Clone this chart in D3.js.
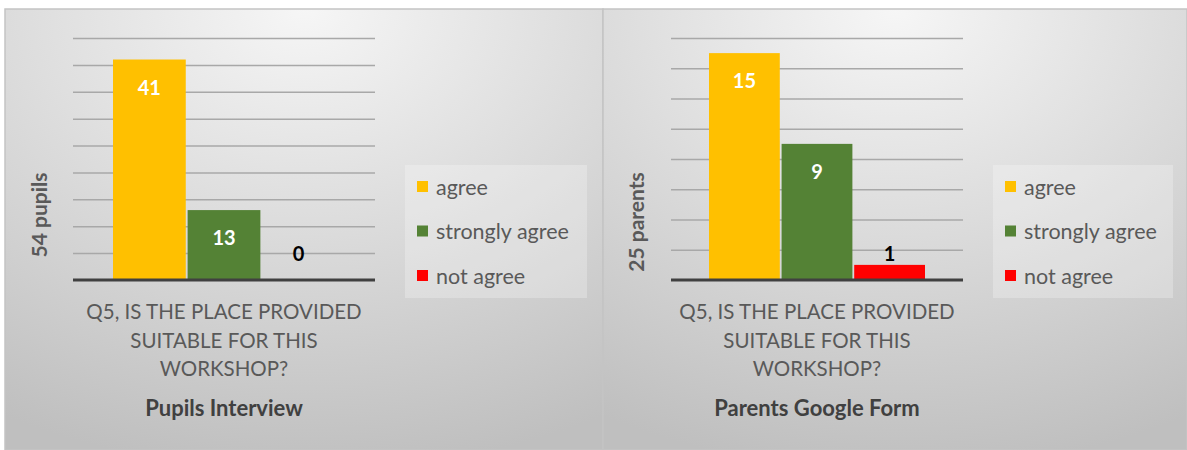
<!DOCTYPE html>
<html><head><meta charset="utf-8">
<script src="https://cdn.jsdelivr.net/npm/d3@7"></script>
<style>html,body{margin:0;padding:0;background:#fff;}svg{display:block;}</style>
</head><body>
<svg id="chart" width="1187" height="450"></svg>
<script>
const categories = ["agree", "strongly agree", "not agree"];
const pupilsValues = [41, 13, 0];
const parentsValues = [15, 9, 1];
const questionLines = ["Q5, IS THE PLACE PROVIDED", "SUITABLE FOR THIS", "WORKSHOP?"];
const panelTitles = ["Pupils Interview", "Parents Google Form"];
const axisTitles = ["54 pupils", "25 parents"];
const axisMax = [45, 16];
const tickStep = [5, 2];
const labelInside = [true, true, false];

const colors = ["#FFC000", "#548235", "#FF0000"];
const svg = d3.select("#chart");
const font = "Lato, 'Open Sans', sans-serif";

const defs = svg.append("defs");
const grad = defs.append("radialGradient").attr("id","bg").attr("cx","50%").attr("cy","0%").attr("r","105%").attr("fx","50%").attr("fy","0%");
grad.append("stop").attr("offset","0%").attr("stop-color","#f6f6f6");
grad.append("stop").attr("offset","100%").attr("stop-color","#bfbfbf");

const panels = [
  {x:5, w:598, plotL:73, plotR:375, gap:40, values:pupilsValues, titleX:40, titleY:215, legX:405, legW:182},
  {x:603, w:584, plotL:671, plotR:963, gap:38, values:parentsValues, titleX:637, titleY:222, legX:993, legW:180}
];
const plotTop = 38, plotBottom = 280;

panels.forEach((p, i) => {
  const g = svg.append("g");
  g.append("rect").attr("x", p.x).attr("y", 9).attr("width", p.w).attr("height", 441)
    .attr("fill", "url(#bg)").attr("stroke", "#c4c4c4").attr("stroke-width", 1.5);

  const y = d3.scaleLinear().domain([0, axisMax[i]]).range([plotBottom, plotTop]);
  const x = d3.scaleBand().domain(categories).range([p.plotL + p.gap, p.plotR - p.gap]).paddingInner(0.025).paddingOuter(0);

  const ticks = d3.range(tickStep[i], axisMax[i] + 0.001, tickStep[i]);
  const yAxis = d3.axisLeft(y).tickValues(ticks).tickSize(-(p.plotR - p.plotL)).tickFormat("");
  const ag = g.append("g").attr("transform", `translate(${p.plotL},0)`).call(yAxis);
  ag.select(".domain").remove();
  ag.selectAll(".tick line").attr("stroke", "#a8a8a8").attr("stroke-width", 1.5);

  g.selectAll("rect.bar").data(p.values).enter().append("rect").attr("class","bar")
    .attr("x", (d, k) => x(categories[k])).attr("width", x.bandwidth())
    .attr("y", d => y(d)).attr("height", d => y(0) - y(d))
    .attr("fill", (d, k) => colors[k]);

  g.append("line").attr("x1", p.plotL).attr("x2", p.plotR).attr("y1", y(0)).attr("y2", y(0))
    .attr("stroke", "#404040").attr("stroke-width", 3);

  g.selectAll("text.lab").data(p.values).enter().append("text").attr("class","lab")
    .attr("x", (d, k) => x(categories[k]) + x.bandwidth() / 2)
    .attr("y", (d, k) => labelInside[k] ? y(d) + 28 : Math.min(y(d), y(0) - 16) - 10)
    .attr("dy", "0.35em").attr("text-anchor", "middle")
    .attr("font-family", font).attr("font-weight", "bold").attr("font-size", 20)
    .attr("fill", (d, k) => labelInside[k] ? "#ffffff" : "#000000")
    .text(d => d);

  g.append("text").attr("transform", `translate(${p.titleX},${p.titleY}) rotate(-90)`)
    .attr("text-anchor", "middle").attr("dy", "0.35em")
    .attr("font-family", font).attr("font-weight", "bold").attr("font-size", 21).attr("fill", "#595959")
    .text(axisTitles[i]);

  const cx = (p.plotL + p.plotR) / 2;
  questionLines.forEach((line, j) => {
    g.append("text").attr("x", cx).attr("y", 312 + j * 28.5).attr("dy", "0.35em").attr("text-anchor", "middle")
      .attr("font-family", font).attr("font-size", 20.5).attr("fill", "#595959").text(line);
  });
  g.append("text").attr("x", cx).attr("y", 408).attr("dy", "0.35em").attr("text-anchor", "middle")
    .attr("font-family", font).attr("font-weight", "bold").attr("font-size", 22).attr("fill", "#404040")
    .text(panelTitles[i]);

  const lg = g.append("g");
  lg.append("rect").attr("x", p.legX).attr("y", 165).attr("width", p.legW).attr("height", 133)
    .attr("fill", "#ffffff").attr("fill-opacity", 0.25);
  categories.forEach((c, k) => {
    const yy = 187 + k * 44.5;
    lg.append("rect").attr("x", p.legX + 12).attr("y", yy - 6).attr("width", 11).attr("height", 11).attr("fill", colors[k]);
    lg.append("text").attr("x", p.legX + 31).attr("y", yy).attr("dy", "0.35em")
      .attr("font-family", font).attr("font-size", 21.5).attr("fill", "#595959").text(c);
  });
});
</script>
</body></html>
